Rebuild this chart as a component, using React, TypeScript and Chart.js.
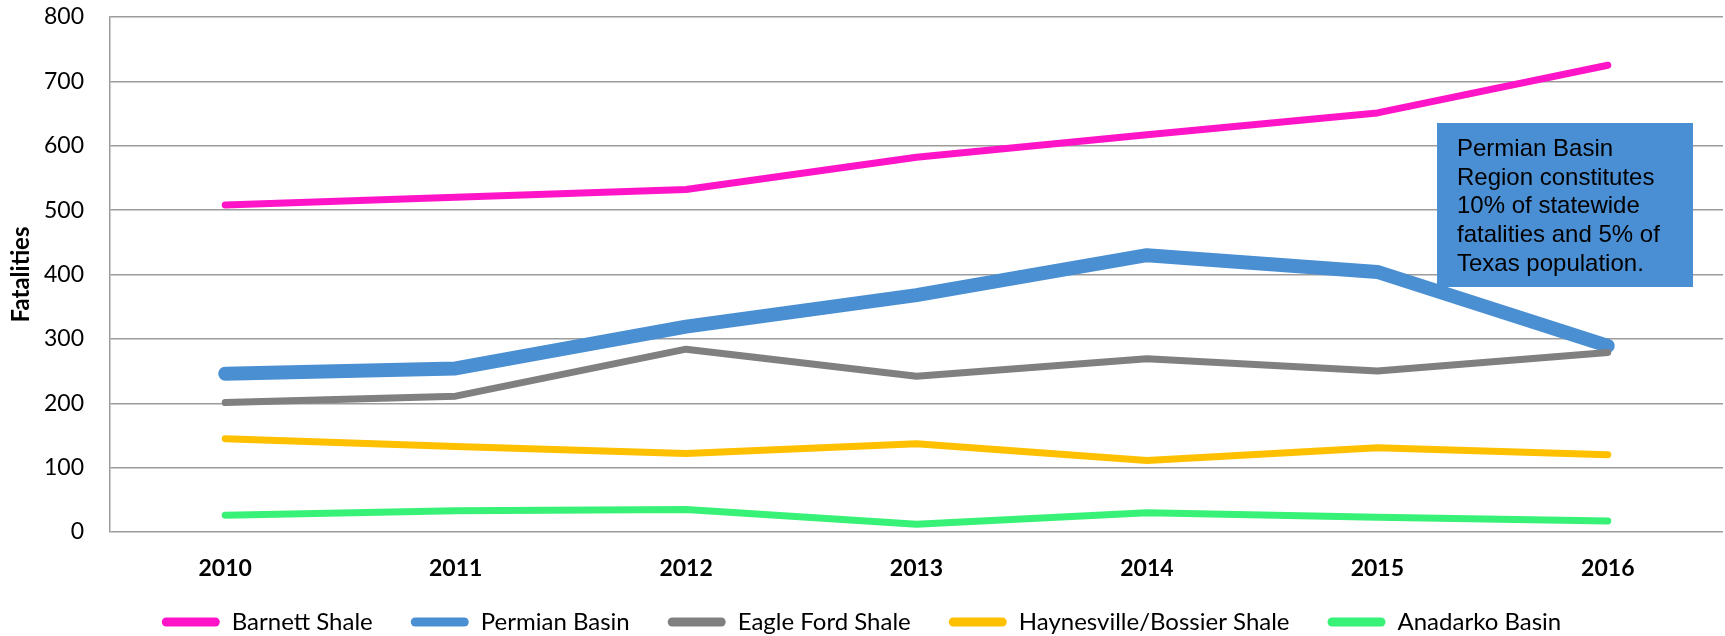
import React, { useEffect, useRef } from 'react';
import { Chart, registerables } from 'chart.js';

Chart.register(...registerables);

const years = ['2010', '2011', '2012', '2013', '2014', '2015', '2016'];
const barnettShale = [508, 520, 532, 582, 617, 651, 725];
const permianBasin = [246, 254, 319, 368, 430, 404, 289];
const eagleFordShale = [201, 211, 284, 242, 269, 250, 279];
const haynesvilleBossierShale = [145, 133, 122, 137, 111, 131, 120];
const anadarkoBasin = [26, 33, 35, 12, 30, 23, 17];

const seriesNames = ['Barnett Shale', 'Permian Basin', 'Eagle Ford Shale', 'Haynesville/Bossier Shale', 'Anadarko Basin'];
const seriesValues = [barnettShale, permianBasin, eagleFordShale, haynesvilleBossierShale, anadarkoBasin];
const seriesColors = ['#FF14C8', '#4A8FD2', '#808080', '#FFC000', '#38F278'];
const seriesWidths = [7, 14, 7, 7, 7];

const yMin = 0;
const yMax = 800;
const yStep = 100;
const yTitle = 'Fatalities';

const noteLines = ['Permian Basin', 'Region constitutes', '10% of statewide', 'fatalities and 5% of', 'Texas population.'];

const FONT = "Lato, 'Open Sans', sans-serif";
const GRID = '#9C9C9C';
const LEGEND_SHIFT = 10;

const notePlugin = {
  id: 'noteBox',
  afterLayout(chart: any) {
    const lg = chart.legend;
    if (lg) {
      lg.top -= LEGEND_SHIFT;
    }
  },
  afterDatasetsDraw(chart: any) {
    const ctx = chart.ctx;
    ctx.save();
    ctx.fillStyle = '#4A8ED3';
    ctx.fillRect(1437, 123, 256, 164);
    ctx.fillStyle = '#000000';
    ctx.font = "24px 'Liberation Sans', Arial, sans-serif";
    ctx.textAlign = 'left';
    ctx.textBaseline = 'alphabetic';
    noteLines.forEach((line, i) => {
      ctx.fillText(line, 1457, 156 + i * 28.7);
    });
    ctx.restore();
  },
};

export default function App() {
  const canvasRef = useRef<HTMLCanvasElement | null>(null);

  useEffect(() => {
    document.body.style.margin = '0';
    const canvas = canvasRef.current;
    if (!canvas) return;
    const n = seriesNames.length;
    const chart = new Chart(canvas, {
      type: 'line',
      data: {
        labels: years,
        datasets: seriesNames.map((name, i) => ({
          label: name,
          data: seriesValues[i],
          borderColor: seriesColors[i],
          backgroundColor: seriesColors[i],
          borderWidth: seriesWidths[i],
          borderCapStyle: 'round',
          borderJoinStyle: 'round',
          pointRadius: 0,
          pointHoverRadius: 0,
          tension: 0,
          fill: false,
          order: n - i,
        })),
      },
      options: {
        responsive: false,
        animation: false,
        layout: { padding: { top: 17, right: 2, left: 0, bottom: 0 } },
        plugins: {
          tooltip: { enabled: false },
          legend: {
            position: 'bottom',
            maxHeight: 64 - LEGEND_SHIFT,
            labels: {
              boxWidth: 58,
              boxHeight: 9,
              padding: 38,
              color: '#000000',
              font: { family: FONT, size: 24 },
              generateLabels: (c: any) =>
                c.data.datasets.map((ds: any, i: number) => ({
                  text: ds.label,
                  fillStyle: ds.borderColor,
                  strokeStyle: ds.borderColor,
                  lineWidth: 0,
                  borderRadius: 4.5,
                  hidden: !c.isDatasetVisible(i),
                  datasetIndex: i,
                  fontColor: '#000000',
                })),
            },
          },
        },
        scales: {
          x: {
            type: 'category',
            offset: true,
            grid: { display: false },
            border: { display: false },
            ticks: {
              color: '#000000',
              font: { family: FONT, size: 23, weight: 'bold' },
              padding: 15,
              maxRotation: 0,
            },
            afterFit: (scale: any) => {
              scale.height = 40 + LEGEND_SHIFT;
            },
          },
          y: {
            min: yMin,
            max: yMax,
            ticks: {
              stepSize: yStep,
              color: '#000000',
              font: { family: FONT, size: 23 },
              padding: 26,
            },
            grid: { color: GRID, lineWidth: 1.5, drawTicks: false },
            border: { color: GRID, width: 1.5 },
            title: {
              display: true,
              text: yTitle,
              color: '#000000',
              font: { family: FONT, size: 24, weight: 'bold' },
              padding: { top: 7, bottom: 0 },
            },
            afterFit: (scale: any) => {
              scale.width = 110;
              scale.paddingTop = 0;
              scale.paddingBottom = 0;
            },
          },
        },
      },
      plugins: [notePlugin],
    } as any);
    return () => chart.destroy();
  }, []);

  return (
    <div style={{ position: 'absolute', left: 0, top: 0, width: 1725, height: 636 }}>
      <canvas ref={canvasRef} width={1725} height={636} style={{ width: 1725, height: 636, display: 'block' }} />
    </div>
  );
}
